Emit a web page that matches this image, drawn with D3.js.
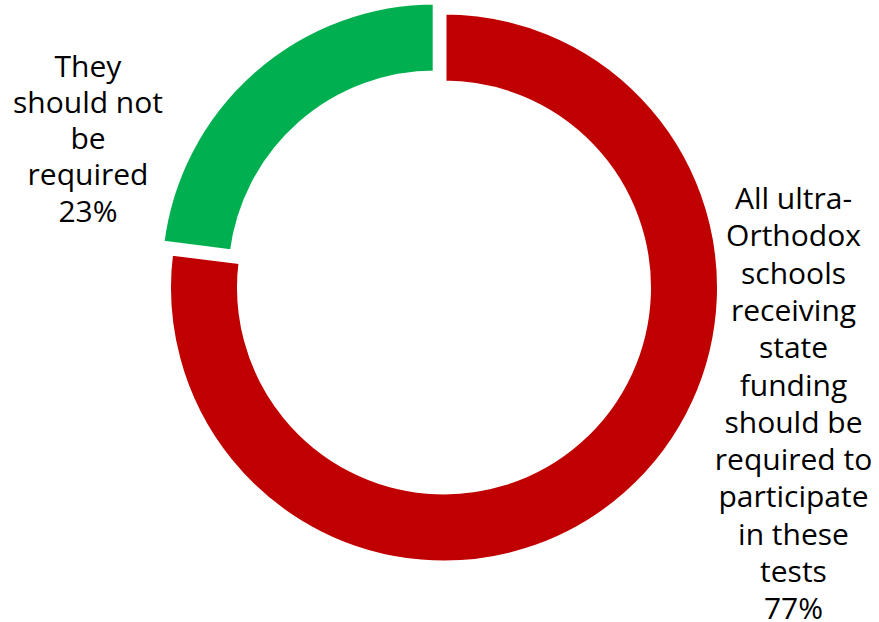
<!DOCTYPE html>
<html>
<head>
<meta charset="utf-8">
<script src="https://cdn.jsdelivr.net/npm/d3@7"></script>
<style>
  html, body { margin: 0; padding: 0; background: #fff; }
  svg { display: block; }
  text { font-family: "Open Sans", "DejaVu Sans", sans-serif; fill: #000; }
</style>
</head>
<body>
<svg id="chart" width="879" height="622"></svg>
<script>
// Survey answers, in drawing order (clockwise from 12 o'clock)
const categories = [
  "All ultra-Orthodox schools receiving state funding should be required to participate in these tests",
  "They should not be required"
];
const values = [77, 23];
const colors = ["#C00000", "#00B050"];
// Label lines as wrapped in the chart
const labelLines = [
  ["All ultra-", "Orthodox", "schools", "receiving", "state", "funding", "should be", "required to", "participate", "in these", "tests"],
  ["They", "should not", "be", "required"]
];
const explode = [0, 13.3];

const svg = d3.select("#chart");
const cx = 444, cy = 287.5;
const outerR = 275.5, innerR = 204.5;

const pie = d3.pie().sort(null).value(d => d.value);
const arc = d3.arc().innerRadius(innerR).outerRadius(outerR);

const data = categories.map((c, i) => ({ name: c, value: values[i], color: colors[i], lines: labelLines[i], explode: explode[i] }));
const arcs = pie(data);

const g = svg.append("g").attr("transform", `translate(${cx},${cy})`);

g.selectAll("path")
  .data(arcs)
  .join("path")
  .attr("d", arc)
  .attr("fill", d => d.data.color)
  .attr("stroke", "#fff")
  .attr("stroke-width", 5)
  .attr("stroke-linejoin", "miter")
  .attr("transform", d => {
    const mid = (d.startAngle + d.endAngle) / 2;
    const dx = Math.sin(mid) * d.data.explode;
    const dy = -Math.cos(mid) * d.data.explode;
    return `translate(${dx},${dy})`;
  });

// Data labels placed beside each slice
const labelPos = [
  { x: 793.5, y: 209, step: 37.3 },
  { x: 88, y: 76.7, step: 36.25 }
];

arcs.forEach((d, i) => {
  const pos = labelPos[i];
  const t = svg.append("text")
    .attr("text-anchor", "middle")
    .attr("font-size", 30);
  const lines = d.data.lines.concat([d3.format(".0%")(d.data.value / 100)]);
  lines.forEach((ln, k) => {
    t.append("tspan")
      .attr("x", pos.x)
      .attr("y", pos.y + k * pos.step)
      .text(ln);
  });
});
</script>
</body>
</html>
